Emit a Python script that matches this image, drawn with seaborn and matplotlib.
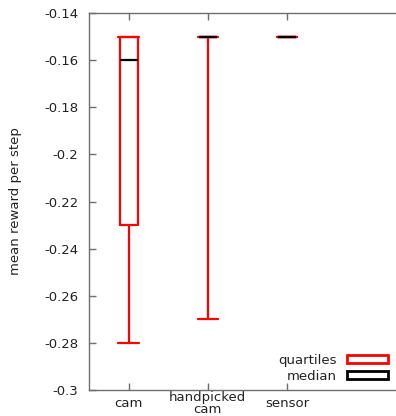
import numpy as np
import pandas as pd
import matplotlib
matplotlib.use("Agg")
import matplotlib.pyplot as plt
import matplotlib.ticker as plticker
from matplotlib.patches import Patch
import seaborn as sns

categories = ["cam", "handpicked\ncam", "sensor"]
whisker_low = [-0.28, -0.27, -0.15]
q1 = [-0.23, -0.15, -0.15]
median = [-0.16, -0.15, -0.15]
q3 = [-0.15, -0.15, -0.15]
whisker_high = [-0.15, -0.15, -0.15]

# five-number summary per category -> samples whose quartiles/extremes match
rows = []
for i, c in enumerate(categories):
    for v in (whisker_low[i], q1[i], median[i], q3[i], whisker_high[i]):
        rows.append((c, v))
df = pd.DataFrame(rows, columns=["setup", "reward"])

sns.set_style("ticks")
plt.rcParams['font.family'] = ['DejaVu Sans']

fig = plt.figure(figsize=(3.96, 4.16), dpi=100)
ax = fig.add_axes([89 / 396, 1 - 390 / 416, 317 / 396, 377 / 416])

red = "#ff0000"
sns.boxplot(
    data=df, x="setup", y="reward", order=categories, ax=ax,
    whis=(0, 100), fill=False, color=red, width=0.23, linewidth=1.6,
    capwidths=0.26,
    boxprops=dict(color=red, linewidth=1.6),
    whiskerprops=dict(color=red, linewidth=1.6),
    capprops=dict(color=red, linewidth=1.6),
    medianprops=dict(color="black", linewidth=1.6, zorder=5),
    showfliers=False,
)

ax.set_xlim(-0.5, 3.5)
ax.set_ylim(-0.3, -0.14)
ax.set_yticks(np.arange(-0.3, -0.139, 0.02))
ax.yaxis.set_major_formatter(plticker.FuncFormatter(lambda v, p: "%g" % round(v, 2)))
ax.set_xticks(range(len(categories)))
ax.set_xticklabels(categories)

spine_col = "#6e6e6e"
for s in ["left", "top", "bottom"]:
    ax.spines[s].set_color(spine_col)
    ax.spines[s].set_linewidth(1.0)
ax.spines["right"].set_visible(False)

ax.tick_params(axis="both", direction="in", length=5, width=1.0, color=spine_col,
               labelsize=9.5, labelcolor="#222222", top=True, right=True)
ax.tick_params(axis="x", pad=10)
ax.tick_params(axis="y", pad=7.5)
for t in ax.get_xticklabels():
    t.set_va("center")
    t.set_multialignment("center")
    t.set_linespacing(0.88)

ax.set_xlabel("")
ax.set_ylabel("mean reward per step", fontsize=9.5, color="#222222", labelpad=16)

handles = [Patch(facecolor="white", edgecolor=red, linewidth=2),
           Patch(facecolor="white", edgecolor="black", linewidth=2)]
ax.legend(handles, ["quartiles", "median"], loc="lower right",
          bbox_to_anchor=(388 / 396, 1 - 383 / 416), bbox_transform=fig.transFigure,
          frameon=False, markerfirst=False, borderpad=0, borderaxespad=0,
          handlelength=3.1, handleheight=0.55, handletextpad=0.8,
          labelspacing=0.25, fontsize=9.5, labelcolor="#222222")

fig.savefig("out.png", dpi=100)
